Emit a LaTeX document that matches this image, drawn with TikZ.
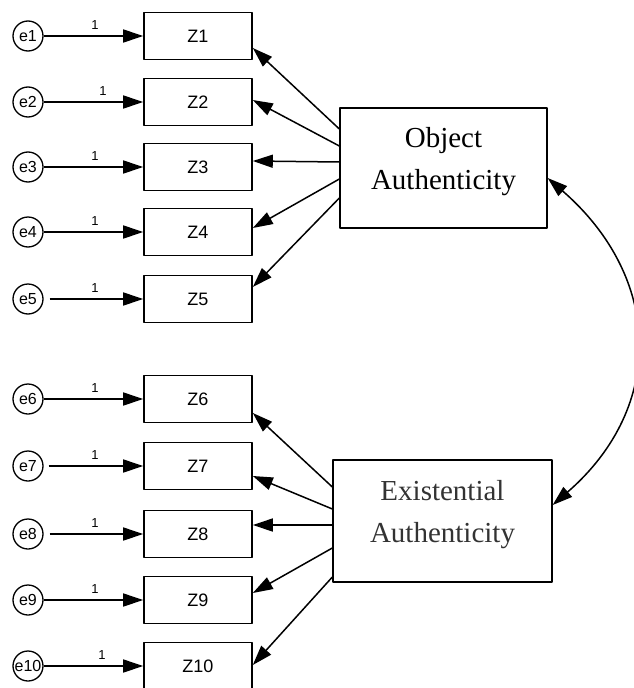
\documentclass[tikz,border=0pt]{standalone}
\usepackage{fontspec}
\setmainfont{Liberation Serif}
\setsansfont{Liberation Sans}
\usetikzlibrary{arrows.meta,calc}

\begin{document}
\begin{tikzpicture}[x=1pt,y=-1pt,line join=round,
	>={Triangle[length=20pt,width=13pt]},
	obs/.style={draw,line width=1.6pt,minimum width=108pt,minimum height=47pt,inner sep=0pt,font=\sffamily\fontsize{18}{18}\selectfont},
	err/.style={draw,circle,line width=1.3pt,minimum size=30pt,inner sep=0pt,font=\sffamily\fontsize{16}{16}\selectfont},
	lat/.style={draw,line width=1.3pt,align=center,inner sep=0pt,font=\fontsize{29}{42}\selectfont},
	one/.style={inner sep=0pt,font=\sffamily\fontsize{13}{13}\selectfont},
	load/.style={line width=1.5pt,->}]
	\useasboundingbox (0,0) rectangle (634,688);
	%========hai biến tiềm ẩn
	\node[lat,minimum width=207pt,minimum height=120pt] (OA) at (443.5,168)
	{Object\\Authenticity\rule[-20pt]{0pt}{0pt}};
	\node[lat,text=black!80,minimum width=219pt,minimum height=122pt] (EA) at (442.5,521)
	{Existential\\Authenticity\rule[-20pt]{0pt}{0pt}};
	%========biến quan sát và sai số
	\foreach \i/\y/\w/\g in {1/36/95/0,2/102/103/0,3/167/95/0,4/232/95/0,5/299/95/6,
		6/399/95/0,7/466/95/5,8/534/95/6,9/600/95/0,10/666/102/0}{
		\node[obs] (Z\i) at (198,\y) {Z\i};
		\node[err] (e\i) at (28,\y) {e\i};
		\node[one] (w\i) at (\w,\y-11) {1};
		\draw[load,shorten <=\g pt] (e\i) -- (Z\i);
	}
	%========hệ số tải
	\foreach \i/\a/\b in {1/-39/12,2/-22/-2,3/-6/-6,4/11/-4,5/30/-12}
	\draw[load] ($(OA.west)+(0,\a)$) -- ($(Z\i.east)+(0,\b)$);
	\foreach \i/\a/\b in {6/-34/14,7/-12/10,8/4/-9,9/27/-7,10/56/-1}
	\draw[load] ($(EA.west)+(0,\a)$) -- ($(Z\i.east)+(0,\b)$);
	%========hiệp phương sai
	\draw[load,<->] ($(OA.east)+(0,10)$) .. controls +(114,99) and +(114,-99) .. ($(EA.east)+(0,-16)$);
\end{tikzpicture}
\end{document}
